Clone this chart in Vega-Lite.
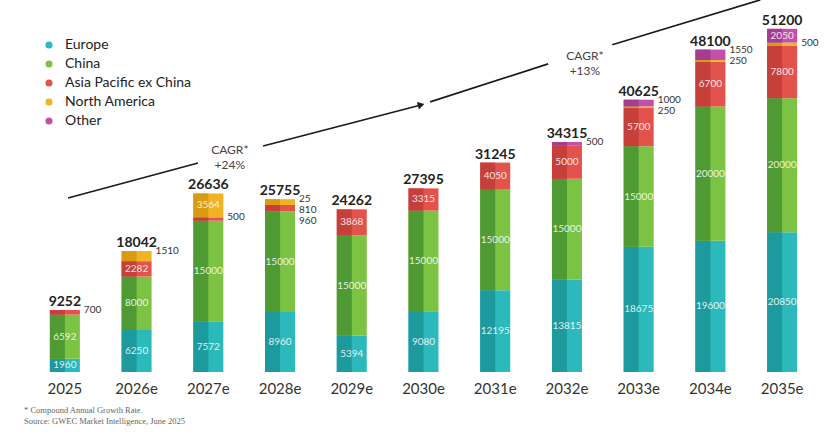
{
  "$schema": "https://vega.github.io/schema/vega-lite/v6.json",
  "autosize": {"type": "none"},
  "width": 789,
  "height": 372,
  "padding": {"left": 29, "top": 0, "right": 22, "bottom": 68},
  "background": "white",
  "config": {"view": {"stroke": null}, "font": "Lato"},
  "title": {
    "text": ["* Compound Annual Growth Rate.", "Source: GWEC Market Intelligence, June 2025"],
    "orient": "bottom", "anchor": "start", "font": "Liberation Serif", "fontSize": 8.5,
    "fontWeight": "normal", "color": "#666666", "lineHeight": 11, "offset": 10, "dx": -5
  },
  "datasets": {
    "main": [
      {"year": "2025", "region": "Europe", "k": 1, "value": 1960, "pos": "in"},
      {"year": "2025", "region": "China", "k": 2, "value": 6592, "pos": "in"},
      {"year": "2025", "region": "Asia Pacific ex China", "k": 3, "value": 700, "pos": "out"},
      {"year": "2026e", "region": "Europe", "k": 1, "value": 6250, "pos": "in"},
      {"year": "2026e", "region": "China", "k": 2, "value": 8000, "pos": "in"},
      {"year": "2026e", "region": "Asia Pacific ex China", "k": 3, "value": 2282, "pos": "in"},
      {"year": "2026e", "region": "North America", "k": 4, "value": 1510, "pos": "out"},
      {"year": "2027e", "region": "Europe", "k": 1, "value": 7572, "pos": "in"},
      {"year": "2027e", "region": "China", "k": 2, "value": 15000, "pos": "in"},
      {"year": "2027e", "region": "Asia Pacific ex China", "k": 3, "value": 500, "pos": "out"},
      {"year": "2027e", "region": "North America", "k": 4, "value": 3564, "pos": "in"},
      {"year": "2028e", "region": "Europe", "k": 1, "value": 8960, "pos": "in"},
      {"year": "2028e", "region": "China", "k": 2, "value": 15000, "pos": "in"},
      {"year": "2028e", "region": "Asia Pacific ex China", "k": 3, "value": 960, "pos": "out"},
      {"year": "2028e", "region": "North America", "k": 4, "value": 810, "pos": "out"},
      {"year": "2028e", "region": "Other", "k": 5, "value": 25, "pos": "out"},
      {"year": "2029e", "region": "Europe", "k": 1, "value": 5394, "pos": "in"},
      {"year": "2029e", "region": "China", "k": 2, "value": 15000, "pos": "in"},
      {"year": "2029e", "region": "Asia Pacific ex China", "k": 3, "value": 3868, "pos": "in"},
      {"year": "2030e", "region": "Europe", "k": 1, "value": 9080, "pos": "in"},
      {"year": "2030e", "region": "China", "k": 2, "value": 15000, "pos": "in"},
      {"year": "2030e", "region": "Asia Pacific ex China", "k": 3, "value": 3315, "pos": "in"},
      {"year": "2031e", "region": "Europe", "k": 1, "value": 12195, "pos": "in"},
      {"year": "2031e", "region": "China", "k": 2, "value": 15000, "pos": "in"},
      {"year": "2031e", "region": "Asia Pacific ex China", "k": 3, "value": 4050, "pos": "in"},
      {"year": "2032e", "region": "Europe", "k": 1, "value": 13815, "pos": "in"},
      {"year": "2032e", "region": "China", "k": 2, "value": 15000, "pos": "in"},
      {"year": "2032e", "region": "Asia Pacific ex China", "k": 3, "value": 5000, "pos": "in"},
      {"year": "2032e", "region": "Other", "k": 5, "value": 500, "pos": "out"},
      {"year": "2033e", "region": "Europe", "k": 1, "value": 18675, "pos": "in"},
      {"year": "2033e", "region": "China", "k": 2, "value": 15000, "pos": "in"},
      {"year": "2033e", "region": "Asia Pacific ex China", "k": 3, "value": 5700, "pos": "in"},
      {"year": "2033e", "region": "North America", "k": 4, "value": 250, "pos": "out"},
      {"year": "2033e", "region": "Other", "k": 5, "value": 1000, "pos": "out"},
      {"year": "2034e", "region": "Europe", "k": 1, "value": 19600, "pos": "in"},
      {"year": "2034e", "region": "China", "k": 2, "value": 20000, "pos": "in"},
      {"year": "2034e", "region": "Asia Pacific ex China", "k": 3, "value": 6700, "pos": "in"},
      {"year": "2034e", "region": "North America", "k": 4, "value": 250, "pos": "out"},
      {"year": "2034e", "region": "Other", "k": 5, "value": 1550, "pos": "out"},
      {"year": "2035e", "region": "Europe", "k": 1, "value": 20850, "pos": "in"},
      {"year": "2035e", "region": "China", "k": 2, "value": 20000, "pos": "in"},
      {"year": "2035e", "region": "Asia Pacific ex China", "k": 3, "value": 7800, "pos": "in"},
      {"year": "2035e", "region": "North America", "k": 4, "value": 500, "pos": "out"},
      {"year": "2035e", "region": "Other", "k": 5, "value": 2050, "pos": "in"}
    ],
    "arrow": [
      {"seg": "A", "px": 0.544, "py": 25970},
      {"seg": "A", "px": 2.357, "py": 31190},
      {"seg": "B", "px": 3.264, "py": 33730},
      {"seg": "B", "px": 5.45, "py": 39800},
      {"seg": "C", "px": 5.593, "py": 40300},
      {"seg": "C", "px": 7.238, "py": 45970},
      {"seg": "D", "px": 8.131, "py": 48810},
      {"seg": "D", "px": 10.195, "py": 55520}
    ],
    "head": [{"px": 5.467, "py": 39850}],
    "cagr": [
      {"px": 2.8, "py": 33130, "label": "CAGR*\n+24%"},
      {"px": 7.75, "py": 47160, "label": "CAGR*\n+13%"}
    ]
  },
  "resolve": {"scale": {"x": "independent"}},
  "layer": [
    {
      "data": {"name": "main"},
      "transform": [
        {"stack": "value", "groupby": ["year"], "sort": [{"field": "k"}], "as": ["y0", "y1"]}
      ],
      "resolve": {"scale": {"color": "independent"}},
      "encoding": {
        "x": {"field": "year", "type": "ordinal", "sort": null,
          "scale": {"paddingInner": 0, "paddingOuter": 0},
          "axis": {"title": null, "domain": false, "ticks": false, "labelAngle": 0,
            "labelFontSize": 15, "labelColor": "#333333", "labelPadding": 9, "labelFont": "Lato"}}
      },
      "layer": [
        {
          "mark": {"type": "bar", "width": 30},
          "encoding": {
            "y": {"field": "y0", "type": "quantitative", "scale": {"domain": [0, 55500], "nice": false}, "axis": null},
            "y2": {"field": "y1"},
            "color": {"field": "region", "type": "nominal",
              "scale": {"domain": ["Europe", "China", "Asia Pacific ex China", "North America", "Other"],
                "range": ["#2bb9bb", "#7cc243", "#e4534b", "#f0b323", "#c34fab"]},
              "legend": {"title": null, "orient": "none", "legendX": 13, "legendY": 38,
                "symbolType": "circle", "symbolSize": 50, "labelFontSize": 14, "labelFont": "Lato",
                "labelColor": "#222222", "rowPadding": 5, "labelOffset": 9}}
          }
        },
        {
          "mark": {"type": "bar", "width": 15, "xOffset": -7.5},
          "encoding": {
            "y": {"field": "y0", "type": "quantitative"},
            "y2": {"field": "y1"},
            "color": {"field": "region", "type": "nominal",
              "scale": {"domain": ["Europe", "China", "Asia Pacific ex China", "North America", "Other"],
                "range": ["#1c9a9e", "#4f9a33", "#c6403b", "#d89b12", "#a23d90"]},
              "legend": null}
          }
        },
        {
          "transform": [
            {"filter": "datum.pos === 'in'"},
            {"calculate": "(datum.y0 + datum.y1) / 2", "as": "mid"}
          ],
          "mark": {"type": "text", "fontSize": 10, "color": "#ffffff", "opacity": 0.85, "baseline": "middle"},
          "encoding": {
            "y": {"field": "mid", "type": "quantitative"},
            "text": {"field": "value", "type": "quantitative", "format": "d"}
          }
        },
        {
          "transform": [
            {"filter": "datum.pos === 'out'"},
            {"joinaggregate": [{"op": "max", "field": "y1", "as": "top"}], "groupby": ["year"]},
            {"window": [{"op": "row_number", "as": "rank"}], "groupby": ["year"], "sort": [{"field": "y1", "order": "descending"}]},
            {"calculate": "datum.top - (datum.rank - 1) * 1640", "as": "ly"}
          ],
          "mark": {"type": "text", "fontSize": 10, "color": "#333333", "align": "left", "baseline": "middle", "dx": 19},
          "encoding": {
            "y": {"field": "ly", "type": "quantitative"},
            "text": {"field": "value", "type": "quantitative", "format": "d"}
          }
        },
        {
          "transform": [
            {"aggregate": [{"op": "sum", "field": "value", "as": "total"}], "groupby": ["year"]}
          ],
          "mark": {"type": "text", "fontSize": 14, "fontWeight": "bold", "color": "#222222", "baseline": "alphabetic", "dy": -4},
          "encoding": {
            "y": {"field": "total", "type": "quantitative"},
            "text": {"field": "total", "type": "quantitative", "format": "d"}
          }
        }
      ]
    },
    {
      "encoding": {
        "x": {"field": "px", "type": "quantitative", "scale": {"domain": [0, 11], "nice": false, "zero": false}, "axis": null}
      },
      "layer": [
        {
          "data": {"name": "arrow"},
          "mark": {"type": "line", "color": "#1a1a1a", "strokeWidth": 1.6},
          "encoding": {
            "y": {"field": "py", "type": "quantitative"},
            "detail": {"field": "seg"}
          }
        },
        {
          "data": {"name": "head"},
          "mark": {"type": "point", "shape": "triangle-right", "angle": -15, "size": 60, "filled": true, "color": "#1a1a1a", "opacity": 1},
          "encoding": {"y": {"field": "py", "type": "quantitative"}}
        },
        {
          "data": {"name": "cagr"},
          "mark": {"type": "text", "fontSize": 12, "color": "#444444", "lineBreak": "\n", "lineHeight": 15, "baseline": "middle"},
          "encoding": {
            "y": {"field": "py", "type": "quantitative"},
            "text": {"field": "label"}
          }
        }
      ]
    }
  ]
}
